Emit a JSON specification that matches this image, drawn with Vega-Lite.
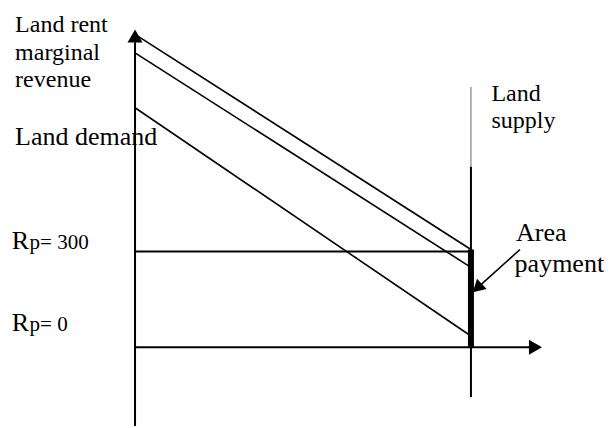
{
  "$schema": "https://vega.github.io/schema/vega-lite/v6.json",
  "width": 609,
  "height": 428,
  "autosize": {"type": "fit", "contains": "padding"},
  "padding": 0,
  "background": "white",
  "config": {"view": {"stroke": null}},
  "datasets": {
    "segments": [
      {"name": "rent axis", "kind": "axis", "x": 0, "y": -247, "x2": 0, "y2": 955},
      {"name": "land axis", "kind": "axis", "x": 0, "y": 0, "x2": 118, "y2": 0},
      {"name": "Rp 300", "kind": "axis", "x": 0, "y": 300, "x2": 100, "y2": 300},
      {"name": "supply", "kind": "axis", "x": 100, "y": -156, "x2": 100, "y2": 565},
      {"name": "supply top", "kind": "thin", "x": 100, "y": 565, "x2": 100, "y2": 815},
      {"name": "area payment", "kind": "thick", "x": 100, "y": 0, "x2": 100, "y2": 306},
      {"name": "marginal revenue top", "kind": "demand", "x": 0, "y": 980, "x2": 100, "y2": 306},
      {"name": "marginal revenue", "kind": "demand", "x": 0, "y": 922, "x2": 100, "y2": 250},
      {"name": "land demand", "kind": "demand", "x": 0, "y": 750, "x2": 100, "y2": 35},
      {"name": "payment pointer", "kind": "demand", "x": 114.6, "y": 306, "x2": 102.5, "y2": 191}
    ],
    "heads": [
      {"name": "rent axis", "x": 0, "y": 975},
      {"name": "land axis", "x": 119.2, "y": 0},
      {"name": "payment pointer", "x": 101.9, "y": 185}
    ],
    "labels": [
      {"text": "Land rent", "kind": "small", "x": -35.7, "y": 987.5},
      {"text": "marginal", "kind": "small", "x": -35.7, "y": 900},
      {"text": "revenue", "kind": "small", "x": -35.7, "y": 815.6},
      {"text": "Land demand", "kind": "large", "x": -35.7, "y": 634.4},
      {"text": "Land", "kind": "small", "x": 106.1, "y": 769.7},
      {"text": "supply", "kind": "small", "x": 106.1, "y": 686.6},
      {"text": "Area", "kind": "large", "x": 113.4, "y": 331.2},
      {"text": "payment", "kind": "large", "x": 113.0, "y": 234.4},
      {"text": "R", "kind": "large", "x": -36.7, "y": 308.4},
      {"text": "p= 300", "kind": "sub", "x": -31.4, "y": 307.8},
      {"text": "R", "kind": "large", "x": -36.7, "y": 50.9},
      {"text": "p= 0", "kind": "sub", "x": -31.4, "y": 50.9}
    ]
  },
  "encoding": {
    "x": {"field": "x", "type": "quantitative", "scale": {"domain": [-40.2, 141.1], "nice": false, "zero": false}, "axis": null},
    "y": {"field": "y", "type": "quantitative", "scale": {"domain": [-250, 1087.5], "nice": false, "zero": false}, "axis": null}
  },
  "layer": [
    {
      "data": {"name": "segments"},
      "transform": [{"filter": "datum.kind === 'thin'"}],
      "mark": {"type": "rule", "color": "#666666", "strokeWidth": 1},
      "encoding": {"x2": {"field": "x2"}, "y2": {"field": "y2"}}
    },
    {
      "data": {"name": "segments"},
      "transform": [{"filter": "datum.kind === 'axis'"}],
      "mark": {"type": "rule", "color": "black", "strokeWidth": 2},
      "encoding": {"x2": {"field": "x2"}, "y2": {"field": "y2"}}
    },
    {
      "data": {"name": "segments"},
      "transform": [{"filter": "datum.kind === 'demand'"}],
      "mark": {"type": "rule", "color": "black", "strokeWidth": 1.6},
      "encoding": {"x2": {"field": "x2"}, "y2": {"field": "y2"}}
    },
    {
      "data": {"name": "segments"},
      "transform": [{"filter": "datum.kind === 'thick'"}],
      "mark": {"type": "rule", "color": "black", "strokeWidth": 6},
      "encoding": {"x2": {"field": "x2"}, "y2": {"field": "y2"}}
    },
    {
      "data": {"name": "heads"},
      "transform": [{"filter": "datum.name === 'rent axis'"}],
      "mark": {"type": "point", "shape": "triangle-up", "size": 225, "filled": true, "color": "black", "opacity": 1}
    },
    {
      "data": {"name": "heads"},
      "transform": [{"filter": "datum.name === 'land axis'"}],
      "mark": {"type": "point", "shape": "triangle-right", "size": 225, "filled": true, "color": "black", "opacity": 1}
    },
    {
      "data": {"name": "heads"},
      "transform": [{"filter": "datum.name === 'payment pointer'"}],
      "mark": {"type": "point", "shape": "triangle-up", "angle": 227, "size": 200, "filled": true, "color": "black", "opacity": 1}
    },
    {
      "data": {"name": "labels"},
      "transform": [{"filter": "datum.kind === 'small'"}],
      "mark": {"type": "text", "align": "left", "baseline": "alphabetic", "font": "Liberation Serif", "fontSize": 24, "color": "black"},
      "encoding": {"text": {"field": "text"}}
    },
    {
      "data": {"name": "labels"},
      "transform": [{"filter": "datum.kind === 'large'"}],
      "mark": {"type": "text", "align": "left", "baseline": "alphabetic", "font": "Liberation Serif", "fontSize": 26, "color": "black"},
      "encoding": {"text": {"field": "text"}}
    },
    {
      "data": {"name": "labels"},
      "transform": [{"filter": "datum.kind === 'sub'"}],
      "mark": {"type": "text", "align": "left", "baseline": "alphabetic", "font": "Liberation Serif", "fontSize": 21, "color": "black"},
      "encoding": {"text": {"field": "text"}}
    }
  ]
}
